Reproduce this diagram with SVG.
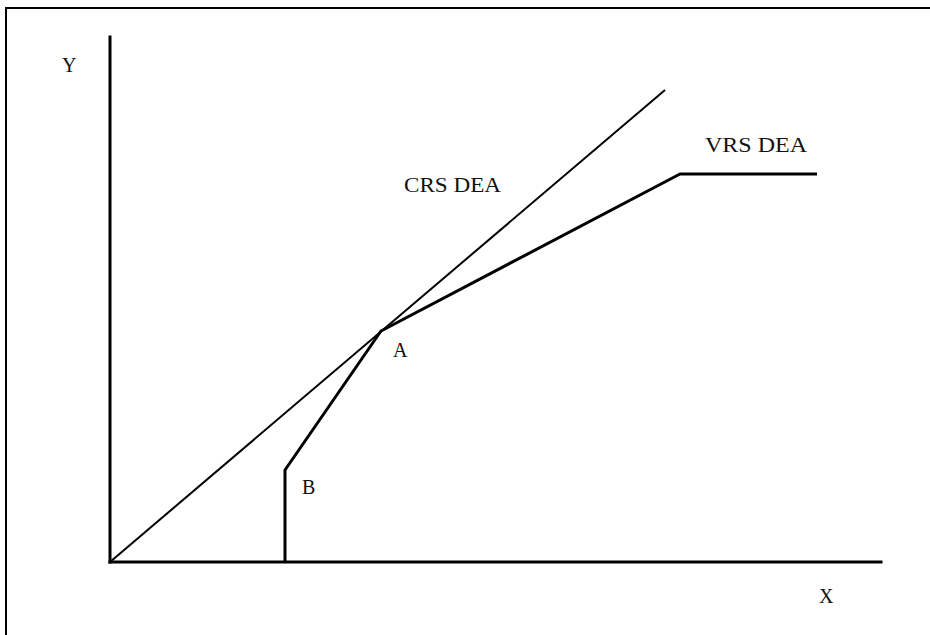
<svg xmlns="http://www.w3.org/2000/svg" width="930" height="635" viewBox="0 0 930 635">
<style>
.lbl{font-family:"Liberation Serif","Times New Roman",serif;font-size:20px;fill:#111;}
.axis{stroke:#000;stroke-width:3;fill:none;stroke-linecap:square;}
.crs{stroke:#000;stroke-width:2;fill:none;}
.vrs{stroke:#000;stroke-width:3;fill:none;stroke-linejoin:round;}
</style>
<rect x="0" y="0" width="930" height="635" fill="#fff"/>
<rect x="6" y="8" width="940" height="640" fill="none" stroke="#000" stroke-width="2"/>
<g id="connectors">
<line id="y-axis" class="axis" x1="110" y1="37" x2="110" y2="562"/>
<line id="x-axis" class="axis" x1="110" y1="562" x2="881" y2="562"/>
<line id="crs-line" class="crs" x1="110" y1="562" x2="665" y2="90"/>
<polyline id="vrs-line" class="vrs" points="285,562 285,470 381,331 680,174 817,174"/>
</g>
<g id="label-y"><text class="lbl" x="62" y="72">Y</text></g>
<g id="label-x"><text class="lbl" x="819" y="603">X</text></g>
<g id="label-a"><text class="lbl" x="393" y="357">A</text></g>
<g id="label-b"><text class="lbl" x="302" y="494">B</text></g>
<g id="label-crs"><text class="lbl" x="404" y="192" textLength="97" lengthAdjust="spacingAndGlyphs">CRS DEA</text></g>
<g id="label-vrs"><text class="lbl" x="705" y="152" textLength="102" lengthAdjust="spacingAndGlyphs">VRS DEA</text></g>
</svg>
